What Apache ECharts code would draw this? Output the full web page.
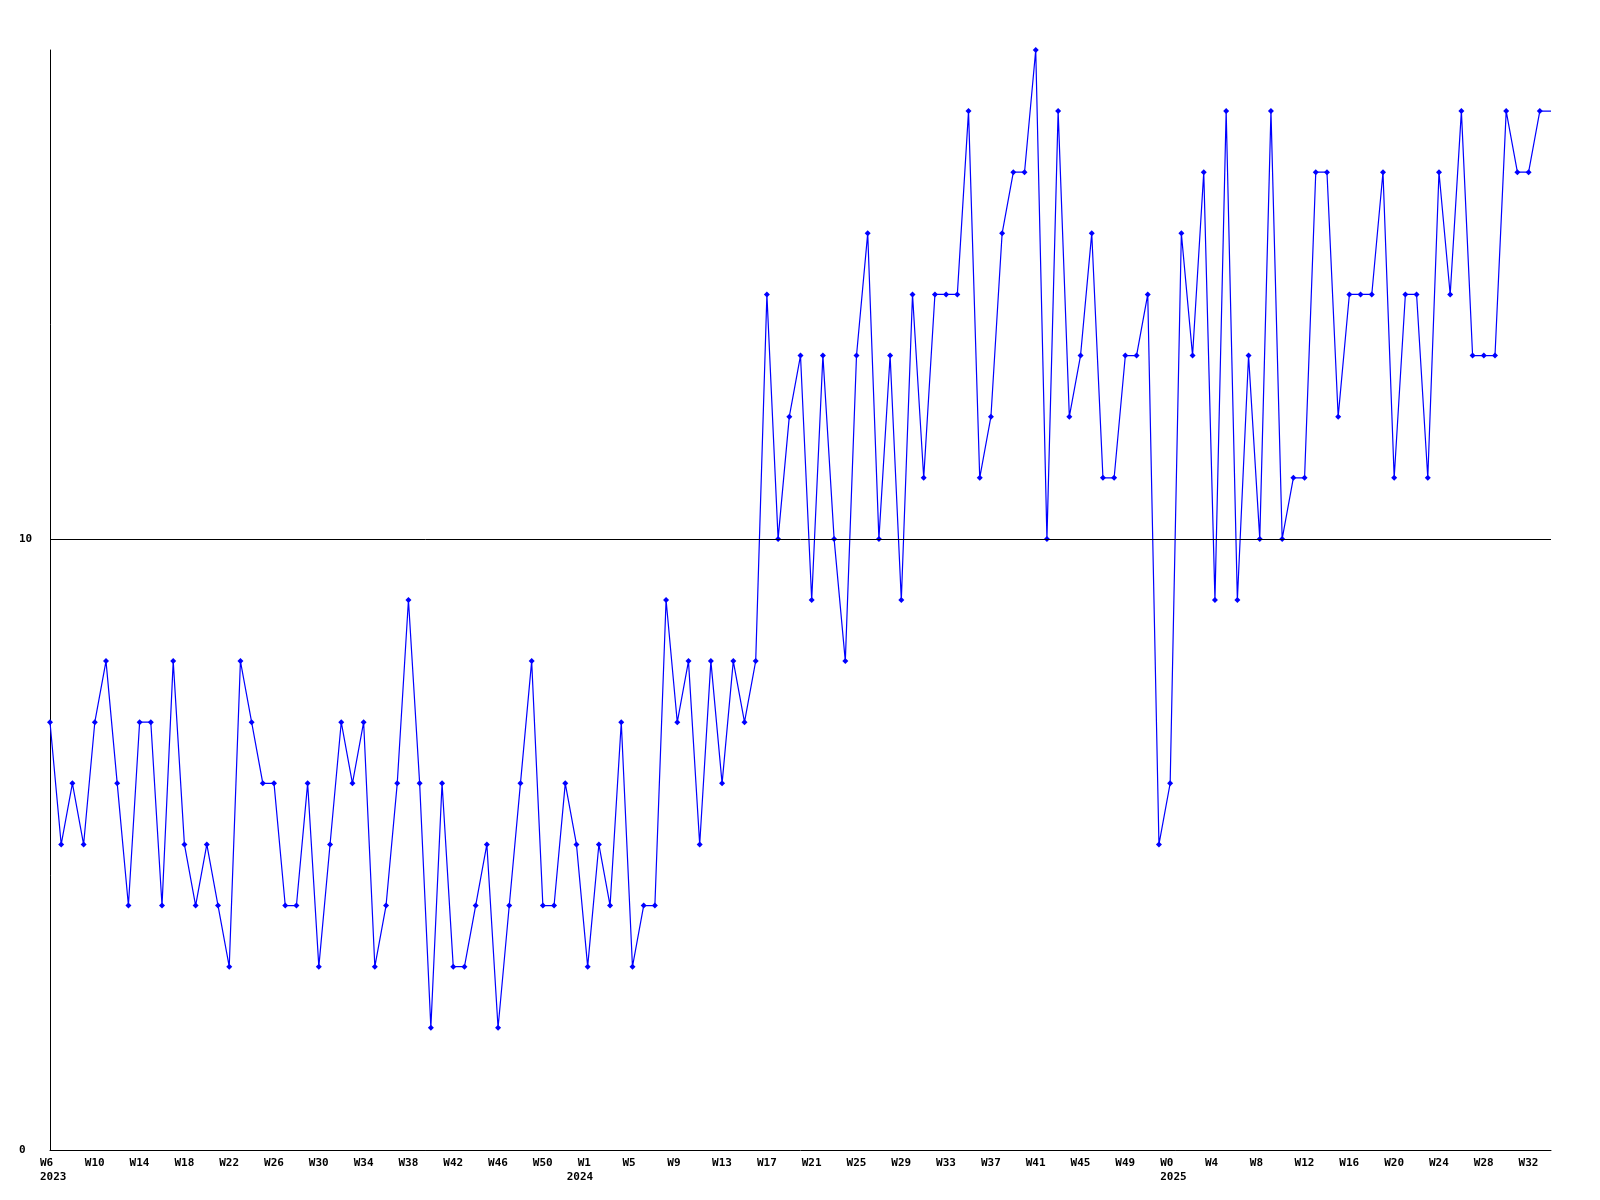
<!DOCTYPE html>
<html>
<head>
<meta charset="utf-8">
<style>
  html, body { margin: 0; padding: 0; background: #ffffff; }
  #chart { width: 1600px; height: 1200px; }
</style>
<script src="https://cdn.jsdelivr.net/npm/echarts@6/dist/echarts.min.js"></script>
</head>
<body>
<div id="chart"></div>
<script>
// Weekly values, starting at W6 2023 (one per week)
const values = [
  7, 5, 6, 5, 7, 8, 6, 4, 7, 7, 4, 8, 5, 4, 5, 4, 3, 8, 7, 6,
  6, 4, 4, 6, 3, 5, 7, 6, 7, 3, 4, 6, 9, 6, 2, 6, 3, 3, 4, 5,
  2, 4, 6, 8, 4, 4, 6, 5, 3, 5, 4, 7, 3, 4, 4, 9, 7, 8, 5, 8,
  6, 8, 7, 8, 14, 10, 12, 13, 9, 13, 10, 8, 13, 15, 10, 13, 9, 14, 11, 14,
  14, 14, 17, 11, 12, 15, 16, 16, 18, 10, 17, 12, 13, 15, 11, 11, 13, 13, 14, 5,
  6, 15, 13, 16, 9, 17, 9, 13, 10, 17, 10, 11, 11, 16, 16, 12, 14, 14, 14, 16,
  11, 14, 14, 11, 16, 14, 17, 13, 13, 13, 17, 16, 16, 17
];

// Tick labels, one every 4 weeks
const weekLabels = [
  'W6', 'W10', 'W14', 'W18', 'W22', 'W26', 'W30', 'W34', 'W38', 'W42', 'W46', 'W50',
  'W1', 'W5', 'W9', 'W13', 'W17', 'W21', 'W25', 'W29', 'W33', 'W37', 'W41', 'W45', 'W49',
  'W0', 'W4', 'W8', 'W12', 'W16', 'W20', 'W24', 'W28', 'W32'
];
// year shown under the week label at these tick positions
const yearLabels = { 0: '2023', 12: '2024', 25: '2025' };
// years whose label sits a bit left of the week label
const yearShifted = ['2024'];

const yTicks = [0, 10];
const yMax = 18;
const labelStep = 4;

// categories: one per week plus the current (partial) period at the right edge
const categories = values.map((v, i) => String(i)).concat(['now']);
const seriesData = values.map(v => v).concat([{ value: values[values.length - 1], symbol: 'none' }]);

const font = 'DejaVu Sans Mono';
const chart = echarts.init(document.getElementById('chart'), null, { renderer: 'canvas' });
chart.setOption({
  backgroundColor: '#ffffff',
  animation: false,
  grid: { left: 50, right: 49, top: 50, bottom: 50, containLabel: false },
  xAxis: {
    type: 'category',
    data: categories,
    boundaryGap: false,
    axisLine: { show: true, lineStyle: { color: '#000000', width: 1 } },
    axisTick: { show: false },
    splitLine: { show: false },
    axisLabel: {
      interval: (index) => index % labelStep === 0 && index < values.length,
      formatter: (value, index) => {
        const k = Math.round(index / labelStep);
        const wk = weekLabels[k] || '';
        const yr = yearLabels[k];
        if (!yr) return '{w|' + wk + '}';
        if (yearShifted.indexOf(yr) >= 0) return '{w|' + wk + '}\n{ys|' + yr + '}';
        return '{w|' + wk + '}\n{w|' + yr + '}';
      },
      rich: {
        w: { fontFamily: font, fontWeight: 'bold', fontSize: 11, lineHeight: 14, color: '#000000' },
        ys: { fontFamily: font, fontWeight: 'bold', fontSize: 11, lineHeight: 14, color: '#000000', padding: [0, 0, 0, -11] }
      },
      fontFamily: font,
      fontWeight: 'bold',
      fontSize: 11,
      lineHeight: 14,
      color: '#000000',
      align: 'left',
      padding: [0, 0, 0, -10],
      margin: 6
    }
  },
  yAxis: {
    type: 'value',
    min: 0,
    max: yMax,
    interval: 10,
    axisLine: { show: true, lineStyle: { color: '#000000', width: 1 } },
    axisTick: { show: false },
    splitLine: { show: false },
    axisLabel: {
      showMaxLabel: false,
      formatter: (v) => yTicks.indexOf(v) >= 0 ? String(v) : '',
      fontFamily: font,
      fontWeight: 'bold',
      fontSize: 11,
      color: '#000000',
      align: 'left',
      margin: 31
    }
  },
  series: [{
    type: 'line',
    data: seriesData,
    symbol: 'diamond',
    symbolSize: 6,
    showSymbol: true,
    showAllSymbol: true,
    clip: false,
    lineStyle: { color: '#0000ff', width: 1.2 },
    itemStyle: { color: '#0000ff' },
    emphasis: { disabled: true },
    markLine: {
      silent: true,
      symbol: 'none',
      label: { show: false },
      lineStyle: { color: '#000000', width: 1, type: 'solid' },
      data: [{ yAxis: yTicks[1] }]
    },
    z: 3
  }]
});
</script>
</body>
</html>
